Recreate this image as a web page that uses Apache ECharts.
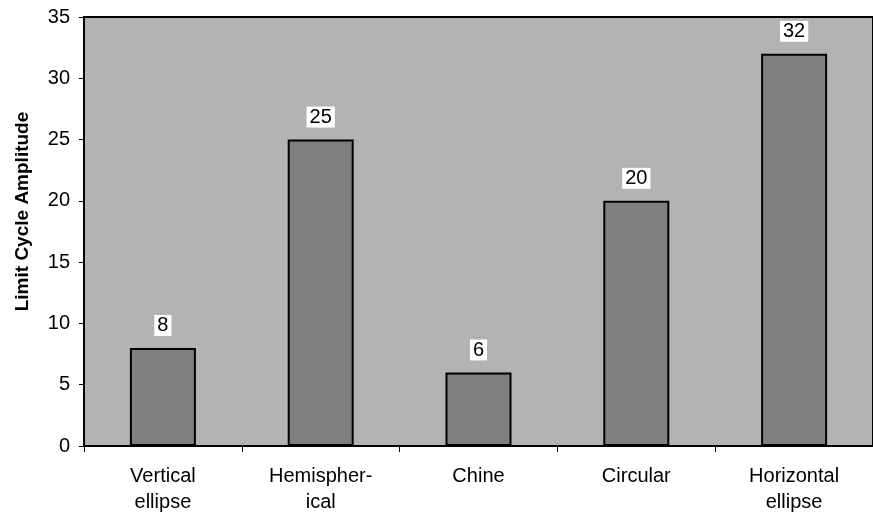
<!DOCTYPE html>
<html>
<head>
<meta charset="utf-8">
<script src="https://cdn.jsdelivr.net/npm/echarts@6/dist/echarts.min.js"></script>
<style>
html,body{margin:0;padding:0;background:#fff;}
#chart{width:873px;height:517px;}
</style>
</head>
<body>
<div id="chart"></div>
<script>
var categories = ['Vertical\nellipse', 'Hemispher-\nical', 'Chine', 'Circular', 'Horizontal\nellipse'];
var amplitudes = [8, 25, 6, 20, 32];
var yTicks = [0, 5, 10, 15, 20, 25, 30, 35];
var yAxisTitle = 'Limit Cycle Amplitude';

var FONT = '"Liberation Sans", Arial, sans-serif';
var chart = echarts.init(document.getElementById('chart'), null, {renderer: 'canvas'});
chart.setOption({
  animation: false,
  backgroundColor: '#ffffff',
  grid: {
    left: 84, top: 17, width: 795, height: 429,
    show: true,
    backgroundColor: '#b3b3b3',
    borderColor: '#000',
    borderWidth: 2
  },
  xAxis: {
    type: 'category',
    data: categories,
    axisLine: {show: true, lineStyle: {color: '#000', width: 2}},
    axisTick: {show: true, length: 6, lineStyle: {color: '#000', width: 1}, alignWithLabel: false},
    axisLabel: {
      color: '#000', fontFamily: FONT, fontSize: 20, lineHeight: 26, margin: 17
    },
    splitLine: {show: false}
  },
  yAxis: {
    type: 'value',
    min: yTicks[0], max: yTicks[yTicks.length - 1], interval: 5,
    name: yAxisTitle,
    nameLocation: 'middle',
    nameGap: 52,
    nameTextStyle: {color: '#000', fontFamily: FONT, fontSize: 19, fontWeight: 'bold', padding: [0, 0, 0, 40]},
    axisLine: {show: true, lineStyle: {color: '#000', width: 2}},
    axisTick: {show: true, length: 5, lineStyle: {color: '#000', width: 1}},
    axisLabel: {color: '#000', fontFamily: FONT, fontSize: 20, margin: 14},
    splitLine: {show: false}
  },
  series: [{
    type: 'bar',
    data: amplitudes,
    barWidth: 66,
    itemStyle: {color: '#7f7f7f', borderColor: '#000', borderWidth: 2},
    label: {
      show: true, position: 'top', distance: 12,
      color: '#000', fontFamily: FONT, fontSize: 20,
      backgroundColor: '#ffffff', padding: [1, 3, 0, 3]
    }
  }]
});
</script>
</body>
</html>
